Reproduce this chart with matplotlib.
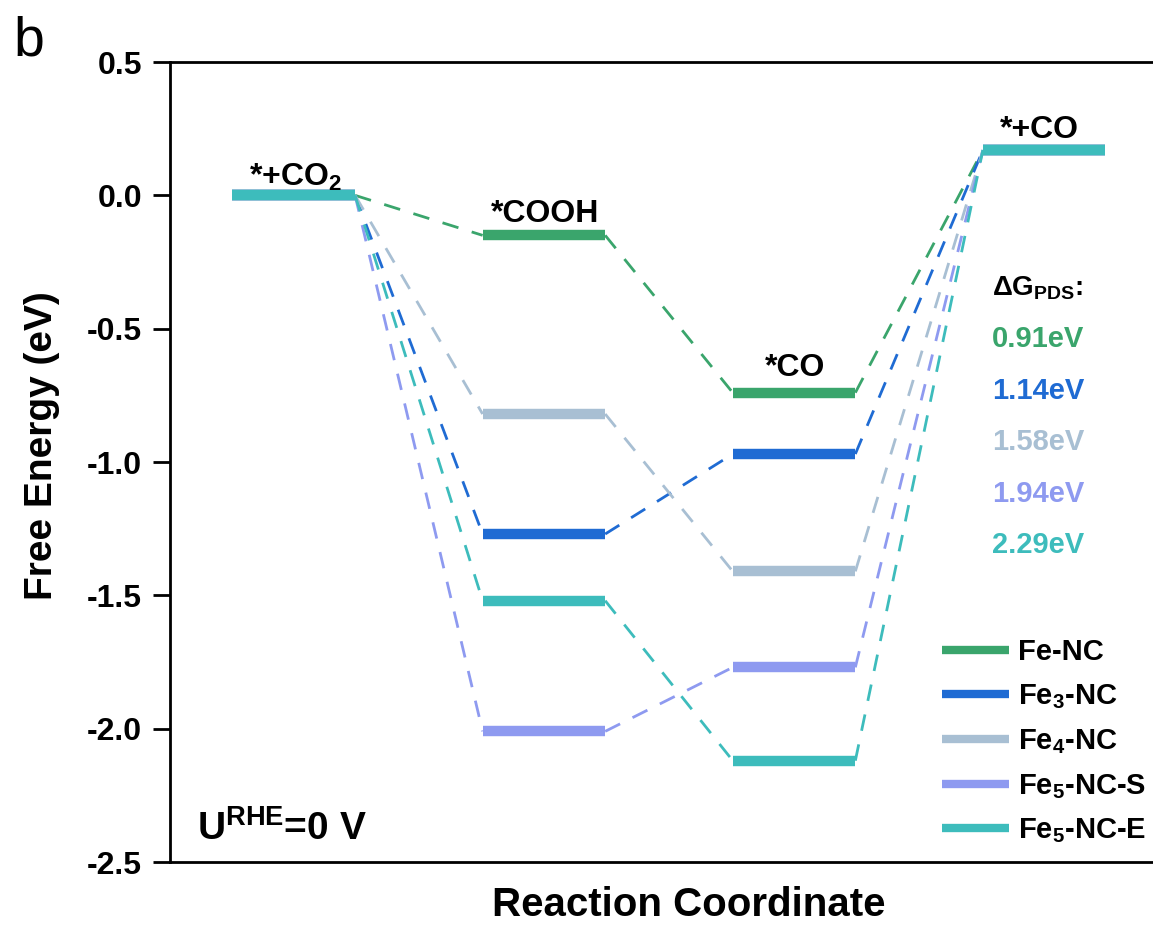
import numpy as np
import matplotlib
matplotlib.use('Agg')
import matplotlib.pyplot as plt
from matplotlib import rcParams

rcParams['font.family'] = ['Liberation Sans', 'DejaVu Sans']
rcParams['font.weight'] = 'bold'
rcParams['mathtext.fontset'] = 'custom'
rcParams['mathtext.rm'] = 'Liberation Sans:bold'
rcParams['mathtext.bf'] = 'Liberation Sans:bold'
rcParams['mathtext.it'] = 'Liberation Sans:bold'

## energies of each state (eV): *+CO2, *COOH, *CO, *+CO
states = ['*+CO$_2$', '*COOH', '*CO', '*+CO']
fe_nc = [0.0, -0.15, -0.74, 0.17]
fe3_nc = [0.0, -1.27, -0.97, 0.17]
fe4_nc = [0.0, -0.82, -1.41, 0.17]
fe5_nc_s = [0.0, -2.01, -1.77, 0.17]
fe5_nc_e = [0.0, -1.52, -2.12, 0.17]

names = ['Fe-NC', 'Fe$_3$-NC', 'Fe$_4$-NC', 'Fe$_5$-NC-S', 'Fe$_5$-NC-E']
dg_pds = ['0.91eV', '1.14eV', '1.58eV', '1.94eV', '2.29eV']
colors = ['#3aa56c', '#1f6bd3', '#a8bfd3', '#8e9af0', '#3dbcbc']

series = [fe_nc, fe3_nc, fe4_nc, fe5_nc_s, fe5_nc_e]

fig = plt.figure(figsize=(11.53, 9.27), dpi=100)
ax = fig.add_axes([0.1474, 0.0701, 0.8526, 0.863])

w = 0.98  # width of each level
for e, c, n in zip(series, colors, names):
    # dashed connectors
    for i in range(len(e) - 1):
        ax.plot([2 * i + w, 2 * (i + 1)], [e[i], e[i + 1]], color=c,
                lw=2, ls=(0, (6, 5)))
    # levels
    for i in range(len(e)):
        ax.plot([2 * i, 2 * i + w], [e[i], e[i]], color=c, lw=7.5,
                solid_capstyle='butt', label=n if i == 0 else None)

## state labels
label_y = [0.01, -0.125, -0.705, 0.19]
label_dx = [0.5, 0.5, 0.5, 0.45]
for i, s in enumerate(states):
    ax.text(2 * i + label_dx[i], label_y[i], s, ha='center', va='bottom',
            fontsize=23, fontweight='bold')

## Delta G PDS
ax.text(6.07, -0.35, r'$\Delta$G$_{\mathregular{PDS}}$:', fontsize=20,
        fontweight='bold', va='center')
for k, (t, c) in enumerate(zip(dg_pds, colors)):
    ax.text(6.07, -0.54 - k * 0.193, t, color=c, fontsize=21,
            fontweight='bold', va='center')

ax.text(-0.28, -2.375, r'U$^{\mathregular{RHE}}$=0 V', fontsize=28,
        fontweight='bold', va='center')

leg = ax.legend(loc='lower right', bbox_to_anchor=(1.02, -0.012), frameon=False,
                fontsize=21, handlelength=2.3, handletextpad=0.3,
                labelspacing=0.55)
for t in leg.get_texts():
    t.set_fontweight('bold')
for h in leg.get_lines():
    h.set_linewidth(6)

ax.set_xlim(-0.5, 7.36)
ax.set_ylim(-2.5, 0.5)
ax.set_yticks(np.arange(-2.5, 0.51, 0.5))
ax.set_yticklabels(['%.1f' % v for v in np.arange(-2.5, 0.51, 0.5)])
ax.set_xticks([])
ax.tick_params(axis='y', direction='out', length=12, width=2,
               labelsize=23, pad=8)
for lab in ax.get_yticklabels():
    lab.set_fontweight('bold')
for sp in ['left', 'top', 'bottom']:
    ax.spines[sp].set_linewidth(2)
ax.spines['right'].set_visible(False)

ax.set_ylabel('Free Energy (eV)', fontsize=28, fontweight='bold')
ax.set_xlabel('Reaction Coordinate', fontsize=29, fontweight='bold')
ax.yaxis.set_label_coords(-0.112, 0.52)
ax.xaxis.set_label_coords(0.528, -0.03)

fig.text(0.012, 0.955, 'b', fontsize=40, fontweight='normal', va='center')

fig.savefig('out.png', dpi=100)
